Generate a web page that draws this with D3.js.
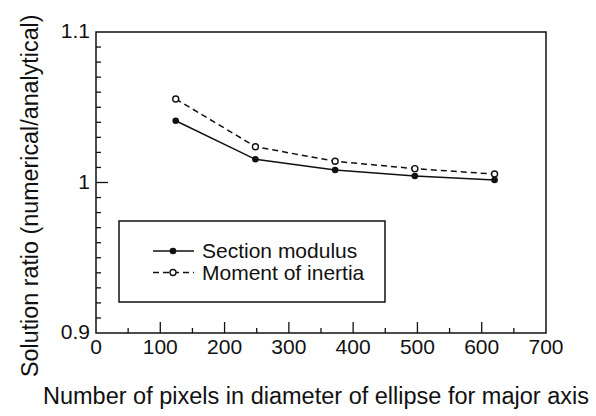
<!DOCTYPE html>
<html>
<head>
<meta charset="utf-8">
<script src="https://cdn.jsdelivr.net/npm/d3@7"></script>
<style>
  body { margin: 0; background: #fff; }
  svg text { font-family: Arial, 'Liberation Sans', sans-serif; fill: #111; }
</style>
</head>
<body>
<div class="chart"></div>
<script>
// data
const pixels = [124, 248, 372, 496, 620];
const sectionModulus = [1.041, 1.0154, 1.0083, 1.0043, 1.0017];
const momentInertia = [1.0555, 1.0238, 1.0141, 1.0092, 1.0056];
const xTicks = [0, 100, 200, 300, 400, 500, 600, 700];
const yTicks = [0.9, 1, 1.1];
const seriesNames = ['Section modulus', 'Moment of inertia'];

const svg_width = 596;
const svg_height = 416;
const margin = { top: 32, right: 50, bottom: 83, left: 96 };
const w = svg_width - margin.left - margin.right;
const h = svg_height - margin.top - margin.bottom;

const svg = d3.select('.chart').append('svg')
  .attr('width', svg_width).attr('height', svg_height);
const g = svg.append('g').attr('transform', `translate(${margin.left},${margin.top})`);

const x = d3.scaleLinear().domain([0, 700]).range([0, w]);
const y = d3.scaleLinear().domain([0.9, 1.1]).range([h, 0]);

// frame
g.append('rect').attr('width', w).attr('height', h)
  .attr('fill', 'none').attr('stroke', '#111').attr('stroke-width', 1.5);

// x ticks (inward), minor every 50
const xMinor = d3.range(50, 700, 100);
g.selectAll('.xmin').data(xMinor).enter().append('line')
  .attr('x1', d => x(d)).attr('x2', d => x(d))
  .attr('y1', h).attr('y2', h - 5).attr('stroke', '#111').attr('stroke-width', 1.3);
g.selectAll('.xmaj').data(xTicks.slice(1, -1)).enter().append('line')
  .attr('x1', d => x(d)).attr('x2', d => x(d))
  .attr('y1', h).attr('y2', h - 11).attr('stroke', '#111').attr('stroke-width', 1.3);
g.selectAll('.xlab').data(xTicks).enter().append('text')
  .attr('x', d => x(d)).attr('y', h + 21)
  .attr('text-anchor', 'middle').style('font-size', '21px')
  .text(d => d);

// y ticks, minor every 0.01
const yMinor = d3.range(1, 20).map(i => 0.9 + i * 0.01).filter(v => Math.abs(v - 1) > 1e-6);
g.selectAll('.ymin').data(yMinor).enter().append('line')
  .attr('x1', 0).attr('x2', 5)
  .attr('y1', d => y(d)).attr('y2', d => y(d)).attr('stroke', '#111').attr('stroke-width', 1.3);
g.selectAll('.ymaj').data([1]).enter().append('line')
  .attr('x1', 0).attr('x2', 12)
  .attr('y1', d => y(d)).attr('y2', d => y(d)).attr('stroke', '#111').attr('stroke-width', 1.3);
g.selectAll('.ylab').data(yTicks).enter().append('text')
  .attr('x', -6).attr('y', d => y(d)).attr('dy', '0.3em')
  .attr('text-anchor', 'end').style('font-size', '21px')
  .text(d => d3.format('')(d));

// lines
const line = d3.line().x(d => x(d[0])).y(d => y(d[1]));
const sm = pixels.map((p, i) => [p, sectionModulus[i]]);
const mi = pixels.map((p, i) => [p, momentInertia[i]]);

g.append('path').datum(sm).attr('d', line)
  .attr('fill', 'none').attr('stroke', '#111').attr('stroke-width', 1.5);
g.append('path').datum(mi).attr('d', line)
  .attr('fill', 'none').attr('stroke', '#111').attr('stroke-width', 1.5)
  .attr('stroke-dasharray', '6,4');

g.selectAll('.pt1').data(sm).enter().append('circle')
  .attr('cx', d => x(d[0])).attr('cy', d => y(d[1])).attr('r', 3.3)
  .attr('fill', '#111');
g.selectAll('.pt2').data(mi).enter().append('circle')
  .attr('cx', d => x(d[0])).attr('cy', d => y(d[1])).attr('r', 3)
  .attr('fill', '#fff').attr('stroke', '#111').attr('stroke-width', 1.4);

// legend
const lg = svg.append('g').attr('transform', 'translate(119,221)');
lg.append('rect').attr('width', 266).attr('height', 81)
  .attr('fill', '#fff').attr('stroke', '#111').attr('stroke-width', 1.5);
seriesNames.forEach((name, i) => {
  const ly = 30 + i * 21.5;
  lg.append('line').attr('x1', 34).attr('x2', 75).attr('y1', ly).attr('y2', ly)
    .attr('stroke', '#111').attr('stroke-width', 1.5)
    .attr('stroke-dasharray', i === 0 ? null : '6,4');
  lg.append('circle').attr('cx', 54).attr('cy', ly).attr('r', i === 0 ? 3.3 : 3)
    .attr('fill', i === 0 ? '#111' : '#fff').attr('stroke', '#111').attr('stroke-width', i === 0 ? 0 : 1.4);
  lg.append('text').attr('x', 83).attr('y', ly).attr('dy', '0.35em')
    .style('font-size', '21px').text(name);
});

// axis titles
svg.append('text').attr('x', 43).attr('y', 404)
  .style('font-size', '23.5px')
  .text('Number of pixels in diameter of ellipse for major axis');
svg.append('text')
  .attr('transform', 'translate(38,377) rotate(-90)')
  .style('font-size', '23.3px')
  .text('Solution ratio (numerical/analytical)');
</script>
</body>
</html>
